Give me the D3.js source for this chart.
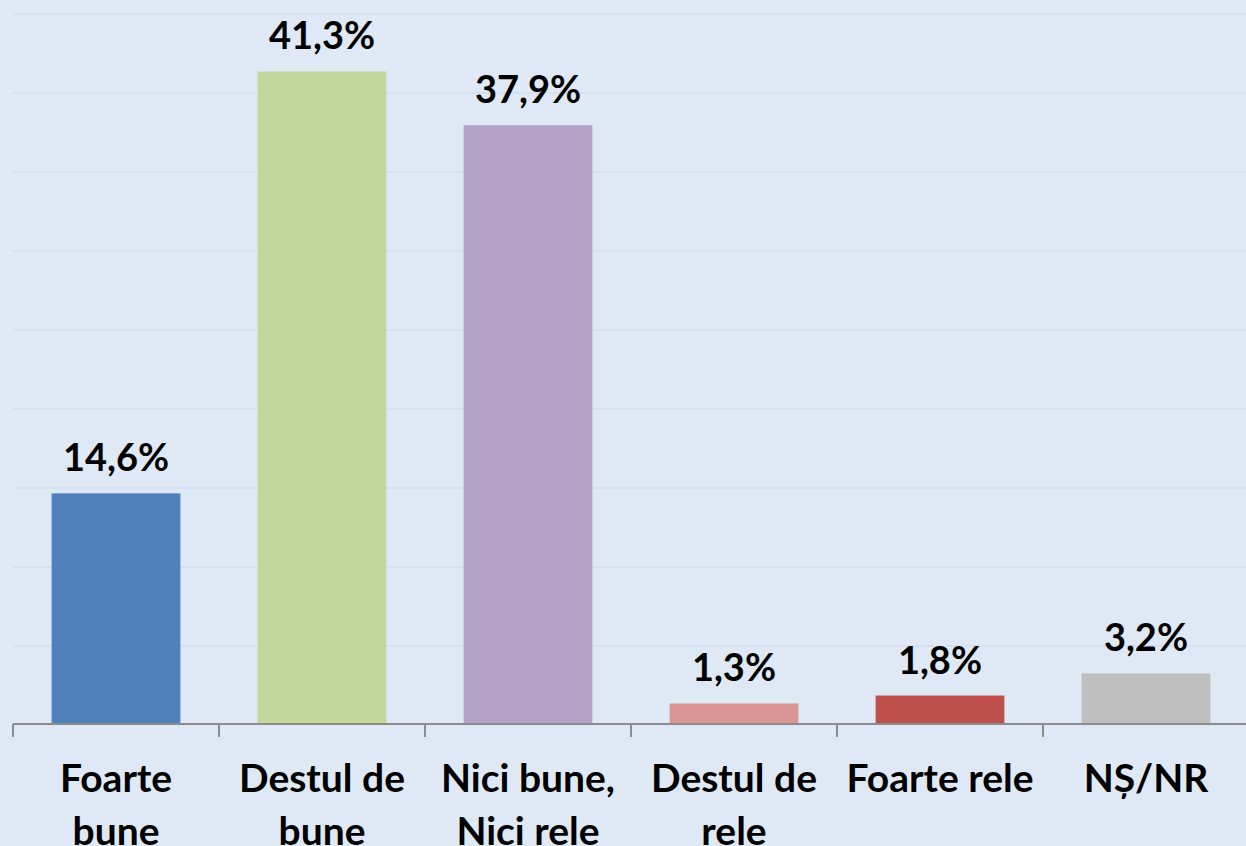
<!DOCTYPE html>
<meta charset="utf-8">
<style>
body { margin: 0; background: #dee9f5; overflow: hidden; }
.grid line { stroke: #d5e1ee; stroke-width: 2; shape-rendering: crispEdges; }
.grid path { stroke-width: 0; }
.axis path, .axis line { stroke: #8c8c8c; stroke-width: 2; shape-rendering: crispEdges; }
.val { font: bold 38px Lato, sans-serif; fill: #000; }
.cat { font: bold 39px Lato, sans-serif; fill: #000; }
</style>
<body>
<script src="https://cdn.jsdelivr.net/npm/d3@7"></script>
<script>

// data
var categories = ["Foarte bune", "Destul de bune", "Nici bune, Nici rele", "Destul de rele", "Foarte rele", "NȘ/NR"];
var catLines = [["Foarte", "bune"], ["Destul de", "bune"], ["Nici bune,", "Nici rele"], ["Destul de", "rele"], ["Foarte rele"], ["NȘ/NR"]];
var values = [14.6, 41.3, 37.9, 1.3, 1.8, 3.2];
var labels = ["14,6%", "41,3%", "37,9%", "1,3%", "1,8%", "3,2%"];
var colors = ["#4f81bd", "#c3d69b", "#b2a2c7", "#d99694", "#c0504d", "#bfbfbf"];
var gridTicks = [0, 5, 10, 15, 20, 25, 30, 35, 40, 45];

var width = 1246, height = 846;
var left = 13, bandW = 206, baseY = 724, topY = 13;

var svg = d3.select("body").append("svg")
    .attr("width", width)
    .attr("height", height);

var x = d3.scaleBand()
    .domain(categories)
    .range([left, left + bandW * categories.length])
    .paddingInner(0.375)
    .paddingOuter(0.1875);

var y = d3.scaleLinear()
    .domain([0, 45])
    .range([baseY, topY]);

// gridlines
svg.append("g")
    .attr("class", "grid")
    .attr("transform", "translate(" + left + ",0)")
    .call(d3.axisLeft(y)
        .tickValues(gridTicks.slice(1))
        .tickSize(-(bandW * categories.length))
        .tickFormat(""));

// bars
svg.selectAll(".bar")
    .data(categories)
  .enter().append("rect")
    .attr("class", "bar")
    .attr("x", function(d) { return x(d); })
    .attr("y", function(d, i) { return y(values[i]); })
    .attr("width", x.bandwidth())
    .attr("height", function(d, i) { return baseY - y(values[i]); })
    .attr("fill", function(d, i) { return colors[i]; });

// value labels
svg.selectAll(".val")
    .data(categories)
  .enter().append("text")
    .attr("class", "val")
    .attr("x", function(d) { return x(d) + x.bandwidth() / 2; })
    .attr("y", function(d, i) { return y(values[i]) - 22; })
    .attr("text-anchor", "middle")
    .text(function(d, i) { return labels[i]; });

// x axis with ticks between categories
var tickPos = d3.range(categories.length + 1).map(function(i) { return left + i * bandW; });
var ax = svg.append("g").attr("class", "axis");
ax.append("path")
    .attr("d", "M" + left + "," + baseY + "H" + (left + bandW * categories.length));
ax.selectAll("line")
    .data(tickPos)
  .enter().append("line")
    .attr("x1", function(d) { return d; })
    .attr("x2", function(d) { return d; })
    .attr("y1", baseY)
    .attr("y2", baseY + 13);

// category labels
var cat = svg.selectAll(".cat")
    .data(categories)
  .enter().append("text")
    .attr("class", "cat")
    .attr("text-anchor", "middle")
    .attr("x", function(d) { return x(d) + x.bandwidth() / 2; })
    .attr("y", 792);

cat.selectAll("tspan")
    .data(function(d, i) { return catLines[i]; })
  .enter().append("tspan")
    .attr("x", function() { return this.parentNode.getAttribute("x"); })
    .attr("dy", function(d, j) { return j === 0 ? 0 : 53; })
    .text(function(d) { return d; });

</script>
</body>
